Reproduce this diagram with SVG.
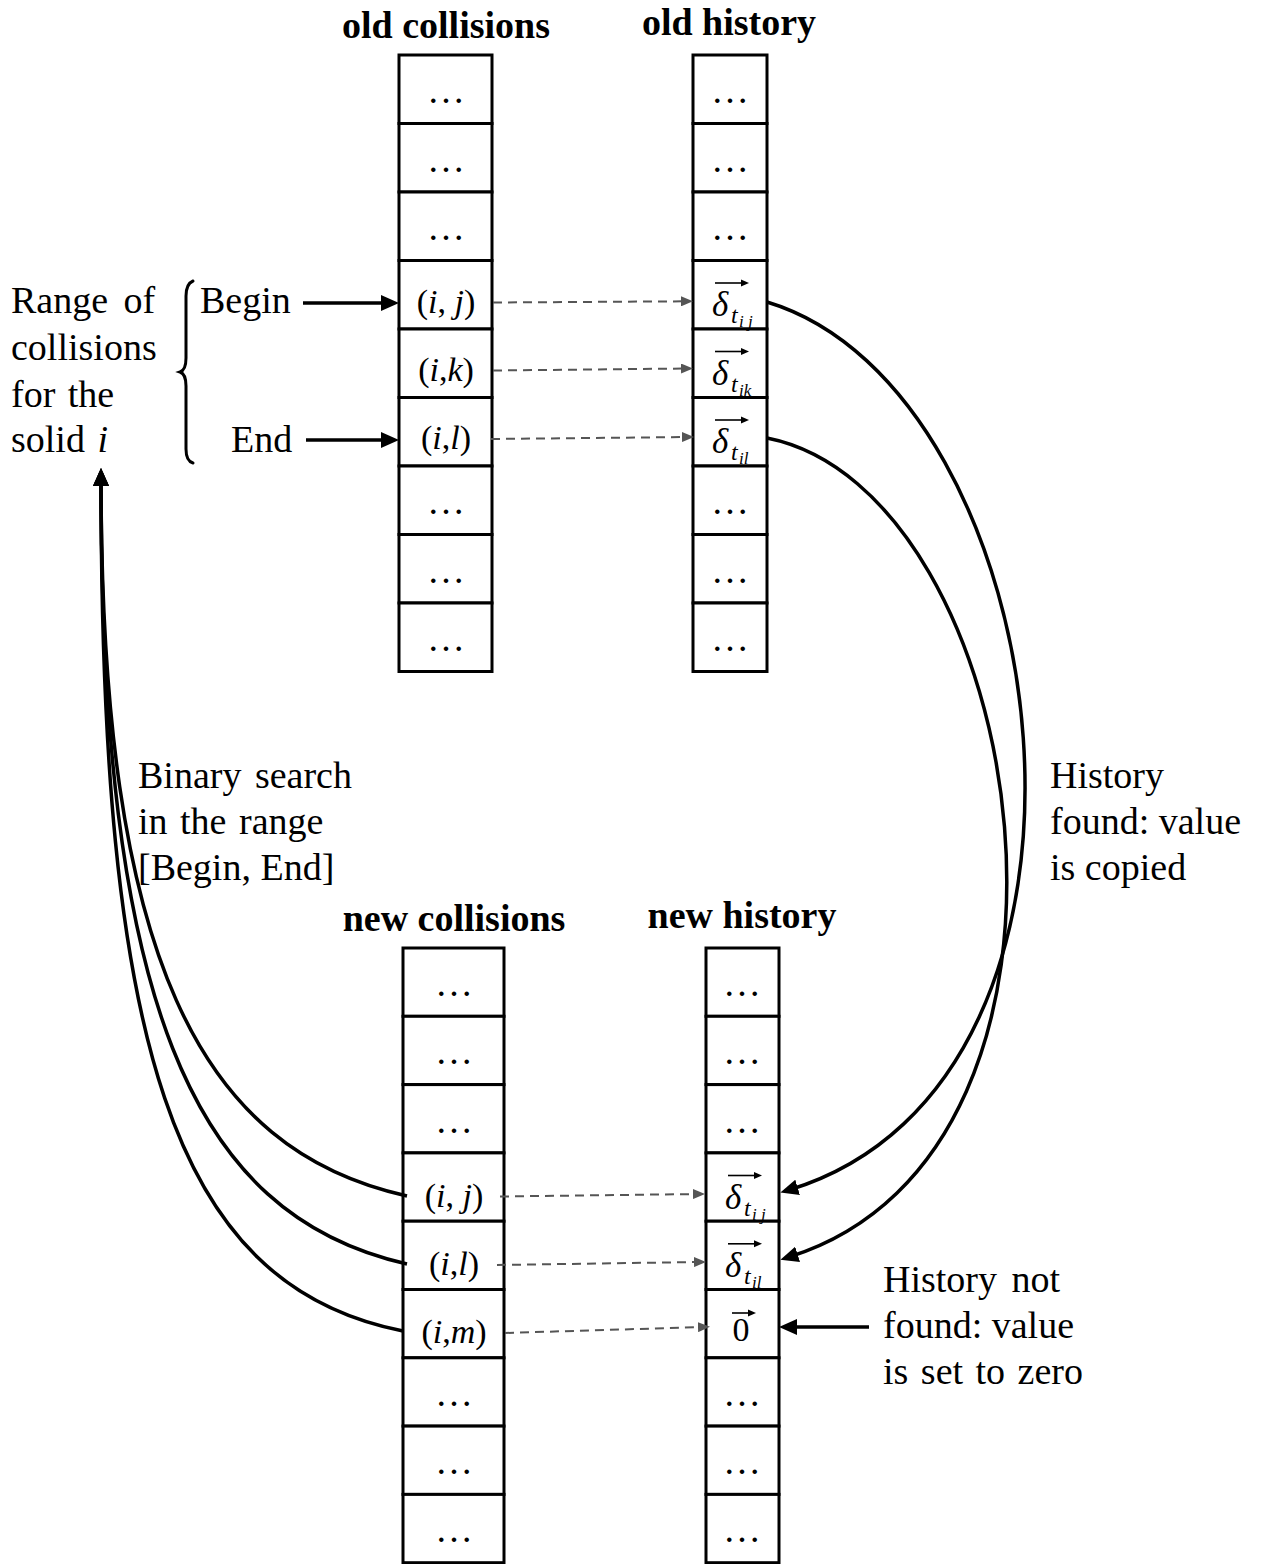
<svg xmlns="http://www.w3.org/2000/svg" width="1271" height="1564" viewBox="0 0 1271 1564">
  <style>
    text { font-family: "Liberation Serif", "Times New Roman", serif; fill: #000; }
    .title { font-size: 38px; font-weight: bold; text-anchor: middle; }
    .body { font-size: 38px; }
    .cellm { font-size: 34px; text-anchor: middle; }
    .dots { font-size: 38px; text-anchor: middle; }
    .it { font-style: italic; }
    .d { font-size: 35px; font-style: italic; }
    .sub { font-size: 24px; font-style: italic; }
    .subsub { font-size: 17px; font-style: italic; }
    .cell { fill: #fff; stroke: #000; stroke-width: 3; }
    .solid { fill: none; stroke: #000; stroke-width: 3.5; marker-end: url(#ah); }
    .dash { fill: none; stroke: #555; stroke-width: 2; stroke-dasharray: 9 6; marker-end: url(#gh); }
    .vec { fill: none; stroke: #000; stroke-width: 1.6; }
    .brace { fill: none; stroke: #000; stroke-width: 3; stroke-linecap: round; }
  </style>
  <defs>
    <marker id="ah" viewBox="0 0 18 16" refX="9" refY="8" markerWidth="18" markerHeight="16" markerUnits="userSpaceOnUse" orient="auto">
      <path d="M0,0 L18,8 L0,16 z" fill="#000"/>
    </marker>
    <marker id="gh" viewBox="0 0 12 10" refX="6" refY="5" markerWidth="12" markerHeight="10" markerUnits="userSpaceOnUse" orient="auto">
      <path d="M0,0 L12,5 L0,10 z" fill="#555"/>
    </marker>
  </defs>

  <!-- column headings -->
  <text class="title" x="446" y="38">old collisions</text>
  <text class="title" x="729" y="35">old history</text>
  <text class="title" x="454" y="931">new collisions</text>
  <text class="title" x="742" y="928">new history</text>

  <!-- old collisions array -->
  <g id="old-collisions">
    <rect class="cell" x="399" y="55" width="93" height="68.5"/>
    <rect class="cell" x="399" y="123.5" width="93" height="68.5"/>
    <rect class="cell" x="399" y="192" width="93" height="68.5"/>
    <rect class="cell" x="399" y="260.5" width="93" height="68.5"/>
    <rect class="cell" x="399" y="329" width="93" height="68.5"/>
    <rect class="cell" x="399" y="397.5" width="93" height="68.5"/>
    <rect class="cell" x="399" y="466" width="93" height="68.5"/>
    <rect class="cell" x="399" y="534.5" width="93" height="68.5"/>
    <rect class="cell" x="399" y="603" width="93" height="68.5"/>
    <text class="dots" x="446" y="103">…</text>
    <text class="dots" x="446" y="171.5">…</text>
    <text class="dots" x="446" y="240">…</text>
    <text class="cellm" x="446" y="313">(<tspan class="it">i</tspan>, <tspan class="it">j</tspan>)</text>
    <text class="cellm" x="446" y="381">(<tspan class="it">i</tspan>,<tspan class="it">k</tspan>)</text>
    <text class="cellm" x="446" y="449">(<tspan class="it">i</tspan>,<tspan class="it">l</tspan>)</text>
    <text class="dots" x="446" y="514">…</text>
    <text class="dots" x="446" y="582.5">…</text>
    <text class="dots" x="446" y="651">…</text>
  </g>

  <!-- old history array -->
  <g id="old-history">
    <rect class="cell" x="693" y="55" width="74" height="68.5"/>
    <rect class="cell" x="693" y="123.5" width="74" height="68.5"/>
    <rect class="cell" x="693" y="192" width="74" height="68.5"/>
    <rect class="cell" x="693" y="260.5" width="74" height="68.5"/>
    <rect class="cell" x="693" y="329" width="74" height="68.5"/>
    <rect class="cell" x="693" y="397.5" width="74" height="68.5"/>
    <rect class="cell" x="693" y="466" width="74" height="68.5"/>
    <rect class="cell" x="693" y="534.5" width="74" height="68.5"/>
    <rect class="cell" x="693" y="603" width="74" height="68.5"/>
    <text class="dots" x="730" y="103">…</text>
    <text class="dots" x="730" y="171.5">…</text>
    <text class="dots" x="730" y="240">…</text>
    <g transform="translate(0,0)">
      <text class="d" x="712" y="316">δ</text>
      <text class="sub" x="731" y="323">t</text>
      <text class="subsub" x="739" y="327">i j</text>
      <path class="vec" d="M715,283 H743"/>
      <path d="M749,283 l-8,-3.5 v7 z"/>
    </g>
    <g transform="translate(0,68.5)">
      <text class="d" x="712" y="316">δ</text>
      <text class="sub" x="731" y="323">t</text>
      <text class="subsub" x="739" y="327">ik</text>
      <path class="vec" d="M715,283 H743"/>
      <path d="M749,283 l-8,-3.5 v7 z"/>
    </g>
    <g transform="translate(0,137)">
      <text class="d" x="712" y="316">δ</text>
      <text class="sub" x="731" y="323">t</text>
      <text class="subsub" x="739" y="327">il</text>
      <path class="vec" d="M715,283 H743"/>
      <path d="M749,283 l-8,-3.5 v7 z"/>
    </g>
    <text class="dots" x="730" y="514">…</text>
    <text class="dots" x="730" y="582.5">…</text>
    <text class="dots" x="730" y="651">…</text>
  </g>

  <!-- new collisions array -->
  <g id="new-collisions">
    <rect class="cell" x="403" y="948" width="101" height="68.3"/>
    <rect class="cell" x="403" y="1016.3" width="101" height="68.3"/>
    <rect class="cell" x="403" y="1084.6" width="101" height="68.3"/>
    <rect class="cell" x="403" y="1152.9" width="101" height="68.3"/>
    <rect class="cell" x="403" y="1221.2" width="101" height="68.3"/>
    <rect class="cell" x="403" y="1289.5" width="101" height="68.3"/>
    <rect class="cell" x="403" y="1357.8" width="101" height="68.3"/>
    <rect class="cell" x="403" y="1426.1" width="101" height="68.3"/>
    <rect class="cell" x="403" y="1494.4" width="101" height="68.3"/>
    <text class="dots" x="454" y="996">…</text>
    <text class="dots" x="454" y="1064.3">…</text>
    <text class="dots" x="454" y="1132.6">…</text>
    <text class="cellm" x="454" y="1207">(<tspan class="it">i</tspan>, <tspan class="it">j</tspan>)</text>
    <text class="cellm" x="454" y="1275">(<tspan class="it">i</tspan>,<tspan class="it">l</tspan>)</text>
    <text class="cellm" x="454" y="1343">(<tspan class="it">i</tspan>,<tspan class="it">m</tspan>)</text>
    <text class="dots" x="454" y="1405.8">…</text>
    <text class="dots" x="454" y="1474.1">…</text>
    <text class="dots" x="454" y="1542.4">…</text>
  </g>

  <!-- new history array -->
  <g id="new-history">
    <rect class="cell" x="706" y="948" width="73" height="68.3"/>
    <rect class="cell" x="706" y="1016.3" width="73" height="68.3"/>
    <rect class="cell" x="706" y="1084.6" width="73" height="68.3"/>
    <rect class="cell" x="706" y="1152.9" width="73" height="68.3"/>
    <rect class="cell" x="706" y="1221.2" width="73" height="68.3"/>
    <rect class="cell" x="706" y="1289.5" width="73" height="68.3"/>
    <rect class="cell" x="706" y="1357.8" width="73" height="68.3"/>
    <rect class="cell" x="706" y="1426.1" width="73" height="68.3"/>
    <rect class="cell" x="706" y="1494.4" width="73" height="68.3"/>
    <text class="dots" x="742" y="996">…</text>
    <text class="dots" x="742" y="1064.3">…</text>
    <text class="dots" x="742" y="1132.6">…</text>
    <g transform="translate(13,892.5)">
      <text class="d" x="712" y="316">δ</text>
      <text class="sub" x="731" y="323">t</text>
      <text class="subsub" x="739" y="327">i j</text>
      <path class="vec" d="M715,283 H743"/>
      <path d="M749,283 l-8,-3.5 v7 z"/>
    </g>
    <g transform="translate(13,960.8)">
      <text class="d" x="712" y="316">δ</text>
      <text class="sub" x="731" y="323">t</text>
      <text class="subsub" x="739" y="327">il</text>
      <path class="vec" d="M715,283 H743"/>
      <path d="M749,283 l-8,-3.5 v7 z"/>
    </g>
    <text class="cellm" x="741" y="1341">0</text>
    <path class="vec" d="M732,1313 H750"/>
    <path d="M756,1313 l-8,-3.5 v7 z"/>
    <text class="dots" x="742" y="1405.8">…</text>
    <text class="dots" x="742" y="1474.1">…</text>
    <text class="dots" x="742" y="1542.4">…</text>
  </g>

  <!-- range annotation with brace -->
  <g id="range-label">
    <text class="body" x="11" y="313" word-spacing="6">Range of</text>
    <text class="body" x="11" y="360">collisions</text>
    <text class="body" x="11" y="407" word-spacing="3">for the</text>
    <text class="body" x="11" y="452" word-spacing="3">solid <tspan class="it">i</tspan></text>
    <path class="brace" d="M193,281 Q186,284 186,296 L186,358 Q186,370 180,372 Q186,374 186,386 L186,449 Q186,461 193,463"/>
    <text class="body" x="200" y="313">Begin</text>
    <text class="body" x="231" y="452">End</text>
  </g>

  <g id="search-label">
    <text class="body" x="138" y="788" word-spacing="4">Binary search</text>
    <text class="body" x="138" y="834" word-spacing="3">in the range</text>
    <text class="body" x="138" y="880">[Begin, End]</text>
  </g>

  <g id="copy-label">
    <text class="body" x="1050" y="788">History</text>
    <text class="body" x="1050" y="834">found:  value</text>
    <text class="body" x="1050" y="880">is copied</text>
  </g>

  <g id="zero-label">
    <text class="body" x="883" y="1292" word-spacing="5">History not</text>
    <text class="body" x="883" y="1338">found:  value</text>
    <text class="body" x="883" y="1384" word-spacing="3">is set to zero</text>
  </g>

  <!-- connectors -->
  <g id="connectors">
    <path class="solid" d="M303,303 L390,303"/>
    <path class="solid" d="M306,440 L390,440"/>
    <path class="solid" d="M869,1327 L788,1327"/>

    <path class="dash" d="M493,302.5 L687,301.3"/>
    <path class="dash" d="M493,370.5 L687,368.5"/>
    <path class="dash" d="M491,439 L688,437"/>
    <path class="dash" d="M500,1196.5 L699,1194"/>
    <path class="dash" d="M497,1265 L700,1262"/>
    <path class="dash" d="M505,1333 L704,1327"/>

    <!-- history copied from old to new -->
    <path class="solid" d="M767,302 C1060,390 1150,1080 789,1190"/>
    <path class="solid" d="M767,438 C1030,490 1130,1150 789,1257"/>

    <!-- binary search back to the range -->
    <path class="solid" d="M407,1196 C200,1150 101,960 101,477"/>
    <path class="solid" d="M407,1264 C190,1215 101,1000 101,477"/>
    <path class="solid" d="M403,1331 C170,1285 101,1040 101,477"/>
  </g>
</svg>
